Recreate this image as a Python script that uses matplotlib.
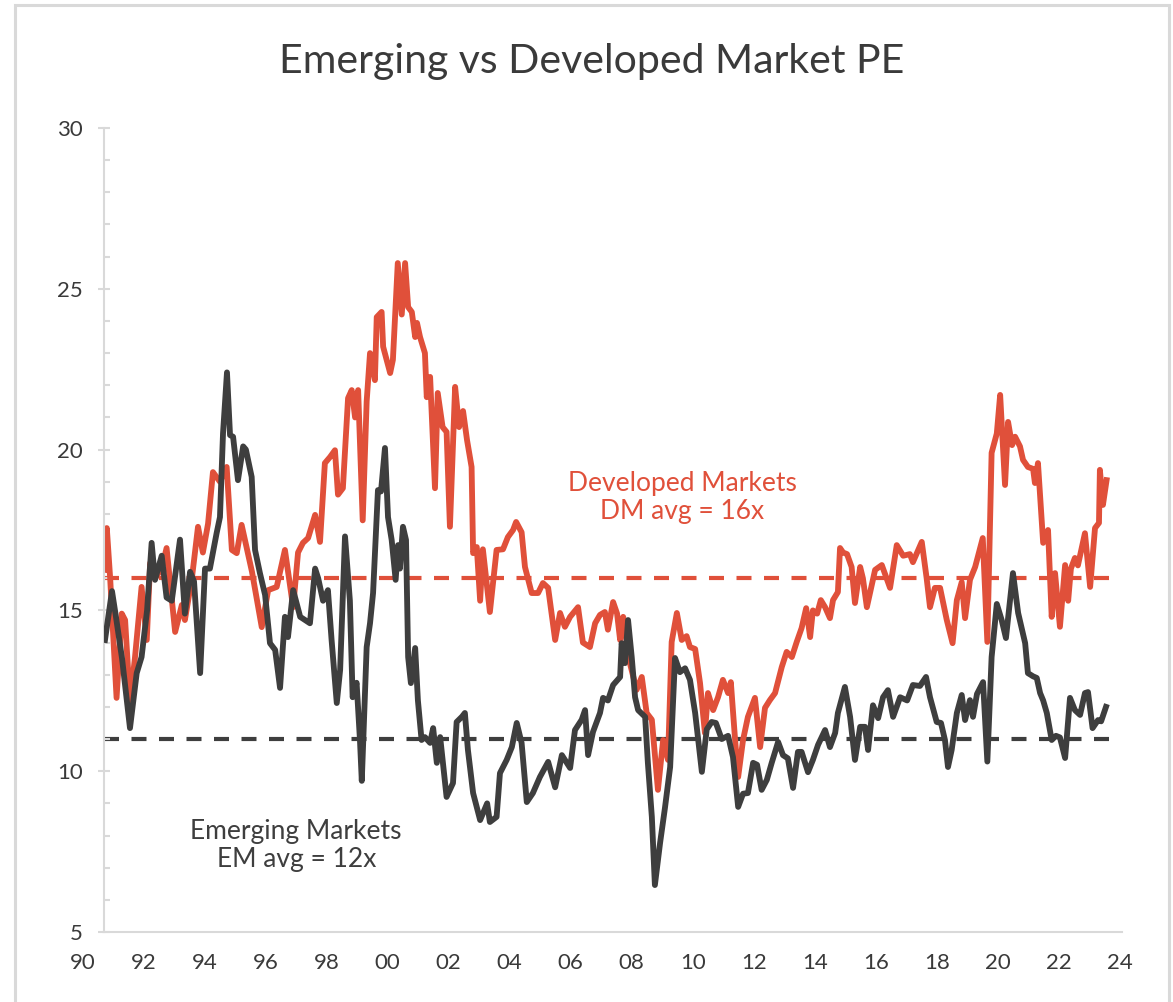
import matplotlib
matplotlib.use("Agg")
import matplotlib.pyplot as plt
import matplotlib.transforms as mtransforms
from matplotlib.patches import Rectangle
from matplotlib.ticker import MultipleLocator

plt.rcParams['font.family'] = ['Lato', 'DejaVu Sans']

# ---- data ----
dm_years = [1990.73, 1990.79, 1990.90, 1991.11, 1991.28, 1991.39, 1991.55, 1991.71, 1991.93, 1992.10,
            1992.21, 1992.37, 1992.59, 1992.75, 1993.03, 1993.25, 1993.35, 1993.58, 1993.78, 1993.94,
            1994.11, 1994.27, 1994.50, 1994.72, 1994.89, 1995.05, 1995.21, 1995.55, 1995.87, 1996.08,
            1996.36, 1996.63, 1996.90, 1997.06, 1997.22, 1997.39, 1997.62, 1997.78, 1997.94, 1998.11,
            1998.27, 1998.37, 1998.53, 1998.70, 1998.82, 1998.93, 1999.03, 1999.18, 1999.31, 1999.42,
            1999.58, 1999.64, 1999.80, 1999.85, 2000.08, 2000.17, 2000.33, 2000.46, 2000.57, 2000.67,
            2000.79, 2000.90, 2000.96, 2001.06, 2001.22, 2001.28, 2001.39, 2001.55, 2001.64, 2001.80,
            2001.93, 2002.04, 2002.21, 2002.34, 2002.47, 2002.60, 2002.75, 2002.80, 2002.92, 2003.03,
            2003.12, 2003.35, 2003.57, 2003.78, 2003.94, 2004.11, 2004.21, 2004.39, 2004.50, 2004.72,
            2004.93, 2005.09, 2005.26, 2005.49, 2005.65, 2005.81, 2005.98, 2006.24, 2006.40, 2006.63,
            2006.80, 2006.96, 2007.12, 2007.22, 2007.39, 2007.52, 2007.62, 2007.72, 2007.94, 2008.16,
            2008.33, 2008.49, 2008.66, 2008.86, 2009.03, 2009.19, 2009.31, 2009.48, 2009.64, 2009.80,
            2009.91, 2010.08, 2010.24, 2010.40, 2010.50, 2010.67, 2010.83, 2010.99, 2011.16, 2011.25,
            2011.39, 2011.49, 2011.65, 2011.81, 2012.04, 2012.21, 2012.37, 2012.53, 2012.70, 2012.92,
            2013.08, 2013.25, 2013.41, 2013.57, 2013.72, 2013.85, 2013.94, 2014.08, 2014.20, 2014.34,
            2014.50, 2014.60, 2014.76, 2014.83, 2014.93, 2015.06, 2015.21, 2015.32, 2015.49, 2015.58,
            2015.71, 2015.98, 2016.20, 2016.47, 2016.69, 2016.90, 2017.12, 2017.22, 2017.51, 2017.67,
            2017.78, 2017.94, 2018.11, 2018.33, 2018.52, 2018.66, 2018.82, 2018.93, 2019.09, 2019.26,
            2019.51, 2019.66, 2019.80, 2019.97, 2020.08, 2020.24, 2020.34, 2020.47, 2020.57, 2020.73,
            2020.83, 2020.99, 2021.16, 2021.22, 2021.32, 2021.49, 2021.65, 2021.77, 2021.88, 2022.04,
            2022.21, 2022.31, 2022.40, 2022.53, 2022.63, 2022.86, 2023.03, 2023.19, 2023.32, 2023.35,
            2023.45, 2023.57]
dm_pe = [16.26, 17.56, 16.0, 12.28, 14.9, 14.7, 12.15, 13.5, 15.73, 14.08,
         16.47, 16.0, 16.3, 16.94, 14.33, 15.17, 14.7, 16.0, 17.6, 16.8,
         17.7, 19.3, 19.0, 19.46, 16.88, 16.78, 17.66, 16.2, 14.48, 15.63,
         15.73, 16.88, 15.1, 16.8, 17.1, 17.25, 17.97, 17.13, 19.58, 19.77,
         19.98, 18.6, 18.8, 21.6, 21.85, 21.0, 21.85, 17.8, 21.5, 23.0,
         22.16, 24.12, 24.28, 23.2, 22.38, 22.79, 25.8, 24.2, 25.8, 24.43,
         24.28, 23.5, 23.94, 23.5, 23.0, 21.63, 22.26, 18.8, 21.76, 20.7,
         20.55, 17.6, 21.95, 20.7, 21.2, 20.3, 19.46, 16.78, 16.97, 15.3,
         16.9, 14.95, 16.88, 16.9, 17.28, 17.5, 17.75, 17.43, 16.35, 15.54,
         15.54, 15.85, 15.7, 14.08, 14.92, 14.49, 14.8, 15.1, 14.0, 13.86,
         14.6, 14.86, 14.95, 14.4, 15.26, 14.9, 14.08, 14.8, 13.36, 12.53,
         12.93, 11.81, 11.6, 9.42, 10.97, 10.35, 14.02, 14.92, 14.08, 14.2,
         13.86, 13.8, 12.74, 11.19, 12.43, 11.9, 12.3, 12.84, 12.43, 12.77,
         10.97, 9.82, 10.97, 11.69, 12.28, 10.75, 11.97, 12.21, 12.43, 13.24,
         13.71, 13.55, 14.02, 14.45, 15.07, 14.17, 15.0, 14.9, 15.32, 15.1,
         14.76, 15.32, 15.57, 16.94, 16.8, 16.75, 16.35, 15.23, 16.35, 16.0,
         15.1, 16.26, 16.41, 15.7, 17.03, 16.7, 16.75, 16.5, 17.13, 16.0,
         15.1, 15.7, 15.7, 14.7, 13.98, 15.32, 15.88, 14.76, 15.95, 16.35,
         17.25, 14.02, 19.9, 20.5, 21.7, 18.9, 20.86, 20.14, 20.4, 20.1,
         19.68, 19.46, 19.4, 18.96, 19.58, 17.1, 17.5, 14.8, 16.16, 14.49,
         16.41, 15.3, 16.3, 16.63, 16.4, 17.4, 15.73, 17.56, 17.72, 19.37,
         18.28, 19.05]

em_years = [1990.73, 1990.96, 1991.09, 1991.29, 1991.55, 1991.77, 1991.93, 1992.11, 1992.26, 1992.37,
            1992.59, 1992.75, 1992.92, 1993.19, 1993.35, 1993.52, 1993.65, 1993.85, 1994.01, 1994.17,
            1994.39, 1994.50, 1994.60, 1994.73, 1994.83, 1994.93, 1995.09, 1995.26, 1995.35, 1995.54,
            1995.65, 1995.81, 1995.98, 1996.14, 1996.31, 1996.47, 1996.63, 1996.73, 1996.90, 1997.13,
            1997.45, 1997.62, 1997.72, 1997.88, 1998.04, 1998.16, 1998.33, 1998.44, 1998.60, 1998.76,
            1998.85, 1998.98, 1999.09, 1999.15, 1999.31, 1999.42, 1999.52, 1999.68, 1999.78, 1999.91,
            2000.01, 2000.13, 2000.26, 2000.34, 2000.40, 2000.50, 2000.60, 2000.67, 2000.76, 2000.90,
            2000.99, 2001.11, 2001.22, 2001.39, 2001.49, 2001.61, 2001.72, 2001.93, 2002.14, 2002.26,
            2002.44, 2002.53, 2002.63, 2002.80, 2003.03, 2003.26, 2003.35, 2003.57, 2003.68, 2003.90,
            2004.07, 2004.23, 2004.39, 2004.56, 2004.76, 2004.99, 2005.26, 2005.49, 2005.71, 2005.98,
            2006.14, 2006.36, 2006.47, 2006.57, 2006.73, 2006.96, 2007.06, 2007.22, 2007.39, 2007.62,
            2007.67, 2007.78, 2007.88, 2008.00, 2008.11, 2008.21, 2008.44, 2008.53, 2008.66, 2008.76,
            2008.93, 2009.09, 2009.26, 2009.42, 2009.58, 2009.75, 2009.91, 2010.08, 2010.30, 2010.46,
            2010.62, 2010.76, 2010.95, 2011.16, 2011.32, 2011.49, 2011.65, 2011.81, 2011.98, 2012.11,
            2012.26, 2012.43, 2012.59, 2012.80, 2012.96, 2013.12, 2013.29, 2013.45, 2013.57, 2013.78,
            2013.94, 2014.11, 2014.34, 2014.50, 2014.67, 2014.76, 2014.99, 2015.16, 2015.32, 2015.49,
            2015.65, 2015.75, 2015.91, 2016.08, 2016.24, 2016.40, 2016.57, 2016.80, 2017.03, 2017.22,
            2017.45, 2017.65, 2017.78, 2018.00, 2018.14, 2018.27, 2018.37, 2018.49, 2018.66, 2018.82,
            2018.93, 2019.09, 2019.19, 2019.32, 2019.52, 2019.66, 2019.80, 2019.97, 2020.13, 2020.27,
            2020.50, 2020.67, 2020.90, 2020.99, 2021.16, 2021.28, 2021.39, 2021.49, 2021.61, 2021.77,
            2021.91, 2022.04, 2022.21, 2022.37, 2022.53, 2022.70, 2022.86, 2022.96, 2023.11, 2023.29,
            2023.39, 2023.55]
em_pe = [14.08, 15.6, 14.8, 13.5, 11.34, 13.05, 13.55, 15.0, 17.1, 15.95,
         16.7, 15.4, 15.3, 17.2, 14.9, 16.2, 15.9, 13.05, 16.3, 16.3,
         17.4, 17.9, 20.5, 22.4, 20.45, 20.4, 19.05, 20.1, 20.0, 19.15,
         16.88, 16.16, 15.48, 13.98, 13.77, 12.59, 14.8, 14.17, 15.63, 14.8,
         14.6, 16.3, 16.0, 15.3, 15.63, 14.08, 12.12, 13.15, 17.3, 15.3,
         12.3, 12.75, 10.97, 9.7, 13.86, 14.6, 15.54, 18.74, 18.7, 20.05,
         17.9, 17.19, 15.95, 17.03, 16.3, 17.6, 17.19, 13.55, 12.74, 13.83,
         12.2, 10.97, 11.06, 10.88, 11.34, 10.26, 11.06, 9.2, 9.63, 11.53,
         11.7, 11.81, 10.66, 9.32, 8.48, 9.0, 8.42, 8.58, 9.94, 10.35,
         10.75, 11.5, 10.88, 9.04, 9.32, 9.82, 10.29, 9.5, 10.5, 10.1,
         11.28, 11.6, 11.9, 10.5, 11.22, 11.81, 12.28, 12.2, 12.68, 12.93,
         13.98, 13.36, 14.7, 13.55, 12.3, 11.9, 11.69, 10.26, 8.58, 6.46,
         7.77, 8.86, 10.13, 13.52, 13.08, 13.2, 12.84, 11.81, 9.98, 11.3,
         11.53, 11.5, 11.0, 11.1, 10.44, 8.89, 9.3, 9.32, 10.26, 10.2,
         9.42, 9.73, 10.26, 10.91, 10.5, 10.4, 9.48, 10.6, 10.6, 9.97,
         10.35, 10.82, 11.28, 10.75, 11.19, 11.81, 12.62, 11.69, 10.35, 11.38,
         11.38, 10.66, 12.05, 11.65, 12.3, 12.52, 11.69, 12.3, 12.2, 12.68,
         12.65, 12.93, 12.3, 11.53, 11.5, 10.97, 10.13, 10.66, 11.81, 12.37,
         11.59, 12.21, 11.69, 12.4, 12.77, 10.3, 13.55, 15.2, 14.7, 14.14,
         16.16, 14.92, 13.98, 13.05, 12.95, 12.9, 12.43, 12.2, 11.81, 10.97,
         11.1, 11.05, 10.41, 12.28, 11.9, 11.75, 12.43, 12.46, 11.34, 11.59,
         11.55, 12.0]

dm_avg = 16
em_avg = 11
year_labels = ['90', '92', '94', '96', '98', '00', '02', '04', '06', '08',
               '10', '12', '14', '16', '18', '20', '22', '24']
label_years = [1990, 1992, 1994, 1996, 1998, 2000, 2002, 2004, 2006, 2008,
               2010, 2012, 2014, 2016, 2018, 2020, 2022, 2024]

RED = '#E0503A'
DARK = '#3E3E3E'
GRID = '#D9D9D9'
TEXT = '#3A3A3A'

W, H = 1173, 1002
fig = plt.figure(figsize=(W / 100, H / 100), dpi=100)
fig.patch.set_facecolor('white')

# outer frame
fig.add_artist(Rectangle((15 / W, -0.05), (1169 - 15) / W, 1.05 - 5 / H,
                         transform=fig.transFigure, fill=False,
                         edgecolor=GRID, linewidth=2.2))

left, right, top, bottom = 104, 1122, 128, 932
ax = fig.add_axes([left / W, 1 - bottom / H, (right - left) / W, (bottom - top) / H])

ax.axhline(dm_avg, xmin=0, xmax=0.993, color=RED, lw=3, dashes=(3.6, 3.0), zorder=1)
ax.axhline(em_avg, xmin=0, xmax=0.993, color=DARK, lw=3, dashes=(3.6, 3.0), zorder=1)
ax.plot(dm_years, dm_pe, color=RED, lw=4.2, solid_joinstyle='round', zorder=2)
ax.plot(em_years, em_pe, color=DARK, lw=4.2, solid_joinstyle='round', zorder=3)

ax.set_xlim(1990.698, 2024.075)
ax.set_ylim(5, 30)

for s in ['top', 'right']:
    ax.spines[s].set_visible(False)
for s in ['left', 'bottom']:
    ax.spines[s].set_color(GRID)
    ax.spines[s].set_linewidth(1.5)

ax.yaxis.set_major_locator(MultipleLocator(5))
ax.yaxis.set_minor_locator(MultipleLocator(1))
ax.tick_params(axis='y', which='major', direction='inout', length=9, width=1.5,
               color=GRID, labelsize=16, labelcolor=TEXT, pad=11)
ax.tick_params(axis='y', which='minor', direction='in', length=4.5, width=1.5, color=GRID)
ax.set_xticks([])

trans = mtransforms.blended_transform_factory(ax.transData, ax.transAxes)
for yr, lab in zip(label_years, year_labels):
    ax.text(yr, -31 / (bottom - top), lab, transform=trans, ha='center', va='center',
            fontsize=16, color=TEXT, clip_on=False)

fig.text(592 / W, 1 - 62 / H, 'Emerging vs Developed Market PE', ha='center', va='center',
         fontsize=29.5, color=TEXT)

ax.text(2009.66, 18.5, 'Developed Markets\nDM avg = 16x', ha='center', va='center',
        fontsize=19, color=RED, linespacing=1.15)
ax.text(1997.0, 7.7, 'Emerging Markets\nEM avg = 12x', ha='center', va='center',
        fontsize=19, color=DARK, linespacing=1.15)

fig.savefig('out.png', dpi=100, facecolor='white')
